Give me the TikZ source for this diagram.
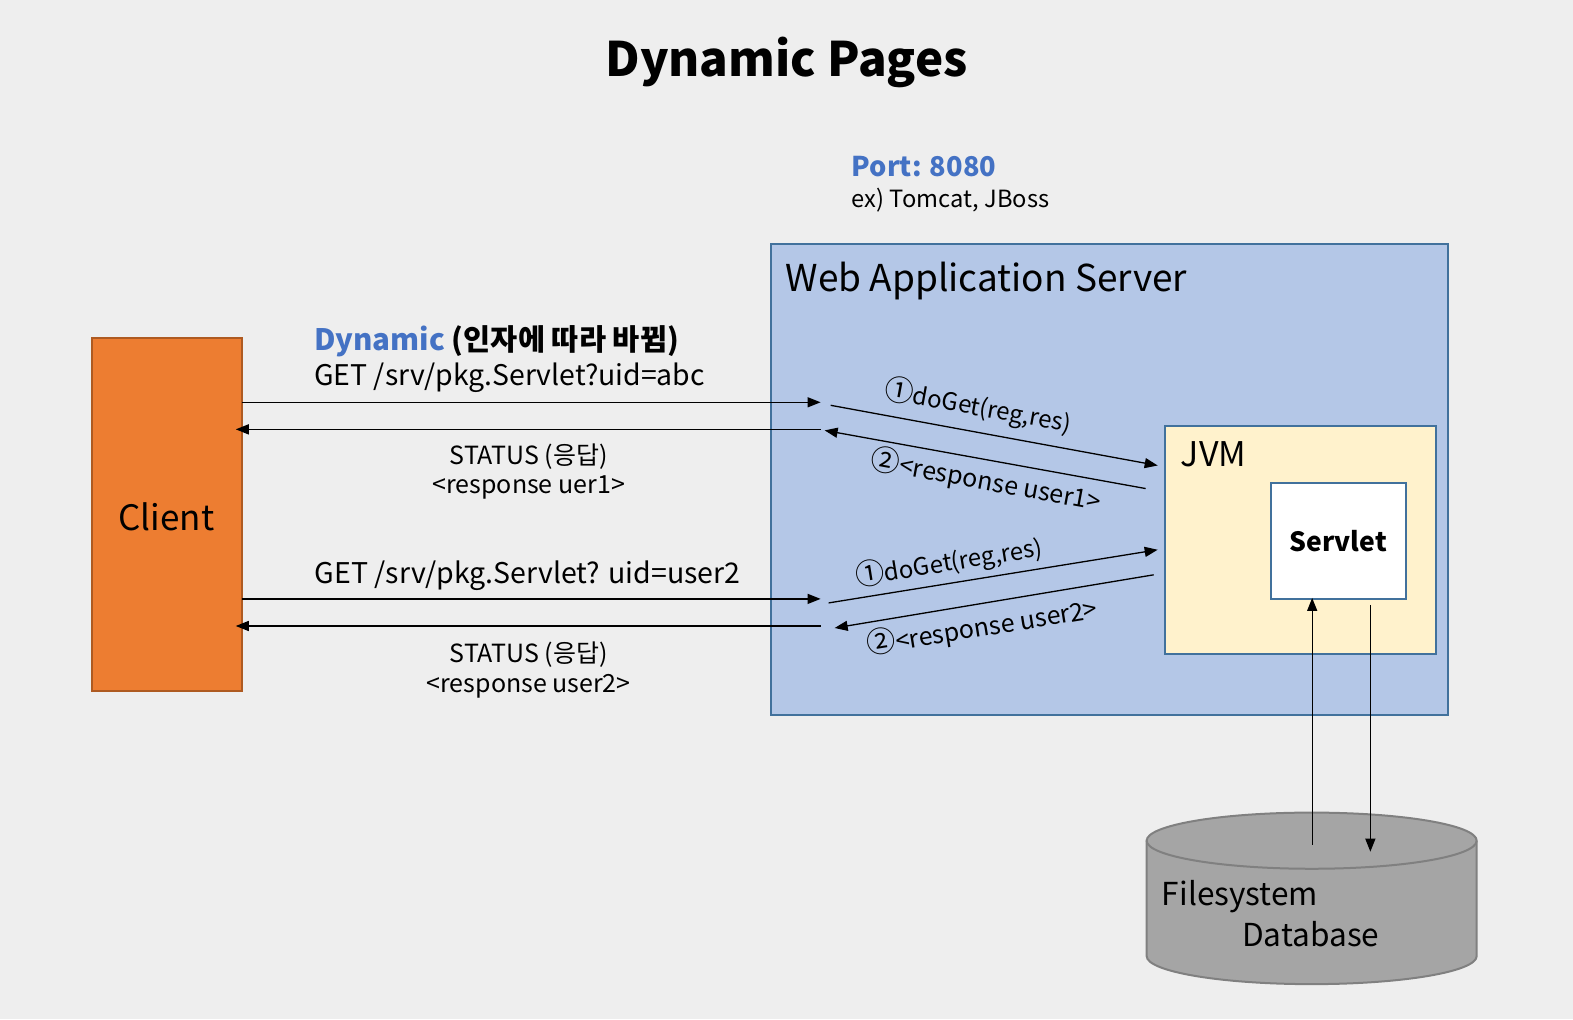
\documentclass[tikz,border=0pt]{standalone}
\usepackage{fontspec}
\setmainfont{Noto Sans CJK KR}
\usetikzlibrary{arrows.meta}
\definecolor{bg}{HTML}{EEEEEE}
\definecolor{wasfill}{HTML}{B4C7E7}
\definecolor{boxline}{HTML}{41719C}
\definecolor{clientfill}{HTML}{ED7D31}
\definecolor{clientline}{HTML}{AE5A21}
\definecolor{jvmfill}{HTML}{FFF2CC}
\definecolor{dbfill}{HTML}{A5A5A5}
\definecolor{dbline}{HTML}{808080}
\definecolor{accent}{HTML}{4472C4}
\newcommand{\circnum}[1]{{\fontsize{29}{29}\selectfont #1}}
\tikzset{
  box/.style={draw=boxline, line width=2pt, inner sep=0pt, anchor=north west},
  conn/.style={line width=1.3pt, -{Triangle[length=13pt,width=10pt]}},
  fs/.style={font=\fontsize{#1}{#1}\selectfont},
  fsb/.style={font=\bfseries\fontsize{#1}{#1}\selectfont},
  lbl/.style={inner sep=0pt, text=black},
}
\begin{document}
\begin{tikzpicture}[x=1.003pt,y=-1.003pt]
\fill[bg] (0,0) rectangle (1568,1016);
\useasboundingbox (0,0) rectangle (1568,1016);

% title
\node[lbl, fsb=47.5, anchor=base] (title) at (784,76) {Dynamic Pages};
\node[lbl, anchor=base west, text=accent, fsb=27.2] (port) at (849,176) {Port: 8080};
\node[lbl, anchor=base west, fs=23.7] (ex) at (849,207) {ex) Tomcat, JBoss};

% boxes
\node[box, fill=wasfill, minimum width=676pt, minimum height=471pt] (was) at (768,242) {};
\node[lbl, anchor=base west, fs=37] (wastxt) at (783,291) {Web Application Server};

\node[box, draw=clientline, line width=1.5pt, fill=clientfill, minimum width=150pt, minimum height=353pt] (client) at (91,336) {};
\node[lbl, anchor=base, fs=35] (clienttxt) at (166,529) {Client};

\node[box, fill=jvmfill, minimum width=271pt, minimum height=228pt] (jvm) at (1160,424) {};
\node[lbl, anchor=base west, fs=34] (jvmtxt) at (1177,465) {JVM};

\node[box, fill=white, minimum width=135pt, minimum height=116pt] (servlet) at (1266,480) {};
\node[lbl, anchor=base, fsb=26.5] (servlettxt) at (1334,550) {Servlet};

% database cylinder
\coordinate (dbc) at (1307,838);
\filldraw[fill=dbfill, draw=dbline, line width=2pt]
  (1143,838) -- (1143,953) arc[start angle=180, end angle=0, x radius=164.5, y radius=28]
  -- (1472,838) arc[start angle=0, end angle=-180, x radius=164.5, y radius=28] -- cycle;
\draw[draw=dbline, line width=2pt] (1143,838) arc[start angle=180, end angle=0, x radius=164.5, y radius=28];
\node[lbl, anchor=base west, fs=31.6] (fs) at (1158,903) {Filesystem};
\node[lbl, anchor=base west, fs=31.6] (dbtxt) at (1238,943) {Database};

% request labels
\node[lbl, anchor=base west, fsb=29.5] (dyn) at (313,349) {\textcolor{accent}{Dynamic} (인자에 따라 바뀜)};
\node[lbl, anchor=base west, fs=28.4] (get1) at (313,384) {GET /srv/pkg.Servlet?uid=abc};
\node[lbl, anchor=base, fs=25] (st1) at (527,463) {STATUS (응답)};
\node[lbl, anchor=base, fs=25] (r1) at (527,492) {<response uer1>};
\node[lbl, anchor=base, fs=28.5] (get2) at (526,582) {GET /srv/pkg.Servlet? uid=user2};
\node[lbl, anchor=base, fs=25] (st2) at (527,660) {STATUS (응답)};
\node[lbl, anchor=base, fs=25] (r2) at (527,690) {<response user2>};

% coordinates for connectors
\coordinate (c1a) at (241,401); \coordinate (c1b) at (818,401);
\coordinate (c2a) at (818,428); \coordinate (c2b) at (235,428);
\coordinate (d1a) at (828,404); \coordinate (d1b) at (1154,464);
\coordinate (d2a) at (1142,487); \coordinate (d2b) at (822,429);
\coordinate (c3a) at (241,597); \coordinate (c3b) at (818,597);
\coordinate (c4a) at (818,624); \coordinate (c4b) at (235,624);
\coordinate (d3a) at (826,601); \coordinate (d3b) at (1154,548);
\coordinate (d4a) at (1150,573); \coordinate (d4b) at (832,626);
\coordinate (v1a) at (1308,842); \coordinate (v1b) at (1308,596);
\coordinate (v2a) at (1366,603); \coordinate (v2b) at (1366,849);

\draw[conn] (c1a) -- (c1b);
\draw[conn] (c2a) -- (c2b);
\draw[conn] (d1a) -- (d1b);
\draw[conn] (d2a) -- (d2b);
\draw[conn] (c3a) -- (c3b);
\draw[conn] (c4a) -- (c4b);
\draw[conn] (d3a) -- (d3b);
\draw[conn] (d4a) -- (d4b);
\draw[conn] (v1a) -- (v1b);
\draw[conn] (v2a) -- (v2b);

% diagonal labels
\node[lbl, fs=24, rotate=-10.4] (dg1) at (975,405) {\circnum{①}doGet(reg,res)};
\node[lbl, fs=25, rotate=-10.4] (rs1) at (983,479) {\circnum{②}<response user1>};
\node[lbl, fs=24, rotate=9.2] (dg2) at (946,560) {\circnum{①}doGet(reg,res)};
\node[lbl, fs=25, rotate=9.2] (rs2) at (979,625) {\circnum{②}<response user2>};
\end{tikzpicture}
\end{document}
